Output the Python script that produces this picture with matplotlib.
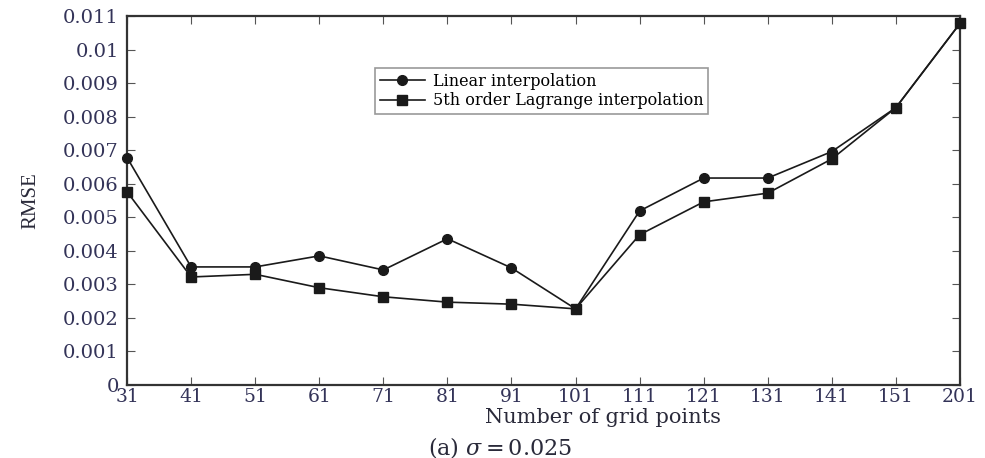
import numpy as np
from matplotlib import pyplot as plt

grid_points = ['31', '41', '51', '61', '71', '81', '91', '101', '111', '121', '131', '141', '151', '201']
linear_rmse = [0.00678, 0.00352, 0.00352, 0.00385, 0.00343, 0.00436, 0.00349, 0.00227,
               0.00519, 0.00617, 0.00617, 0.00696, 0.00827, 0.01078]
lagrange_rmse = [0.00576, 0.00322, 0.00330, 0.00290, 0.00263, 0.00247, 0.00241, 0.00227,
                 0.00448, 0.00546, 0.00572, 0.00674, 0.00827, 0.01078]
yticks = [0, 0.001, 0.002, 0.003, 0.004, 0.005, 0.006, 0.007, 0.008, 0.009, 0.01, 0.011]
ytick_labels = ['0', '0.001', '0.002', '0.003', '0.004', '0.005', '0.006', '0.007',
                '0.008', '0.009', '0.01', '0.011']

plt.rcParams['font.family'] = ['DejaVu Serif']
plt.rcParams['mathtext.fontset'] = 'dejavuserif'

fig = plt.figure(figsize=(9.85, 4.58), dpi=100)
ax = fig.add_axes([0.129, 0.1594, 0.8456, 0.8056])

x = np.arange(len(grid_points))
ax.plot(x, linear_rmse, '-o', color='#1a1a1a', lw=1.2, ms=7, label='Linear interpolation', clip_on=False, zorder=3)
ax.plot(x, lagrange_rmse, '-s', color='#1a1a1a', lw=1.2, ms=6.5, label='5th order Lagrange interpolation', clip_on=False, zorder=3)

ax.set_xlim(0, len(grid_points) - 1)
ax.set_ylim(0, 0.011)
ax.set_xticks(x)
ax.set_xticklabels(grid_points)
ax.set_yticks(yticks)
ax.set_yticklabels(ytick_labels)
ax.tick_params(direction='in', length=6, width=0.8, labelsize=14, color='#555555',
               top=True, right=True, labelcolor='#333358')
ax.tick_params(axis='y', pad=6)
ax.tick_params(axis='x', labelsize=13.5, pad=2)
for s in ax.spines.values():
    s.set_linewidth(1.6)
    s.set_color('#333333')

ax.set_xlabel('Number of grid points', fontsize=15, color='#2a2a3a', va='center')
ax.xaxis.set_label_coords(0.571, -0.087)
ax.set_ylabel('RMSE', family='Liberation Serif', fontsize=15, color='#2a2a3a', va='center')
ax.yaxis.set_label_coords(-0.115, 0.5)

leg = ax.legend(loc='upper left', bbox_to_anchor=(0.298, 0.859), borderaxespad=0,
                fancybox=False, fontsize=11.5, handlelength=2.8, handletextpad=0.5,
                labelspacing=0.15, borderpad=0.3, framealpha=1)
leg.get_frame().set_edgecolor('#999999')
leg.get_frame().set_linewidth(1.2)

fig.text(0.508, 0.024, r'(a) $\sigma = 0.025$', fontsize=16, color='#2a2a3a', ha='center', va='center')

fig.savefig('out.png', dpi=100)
